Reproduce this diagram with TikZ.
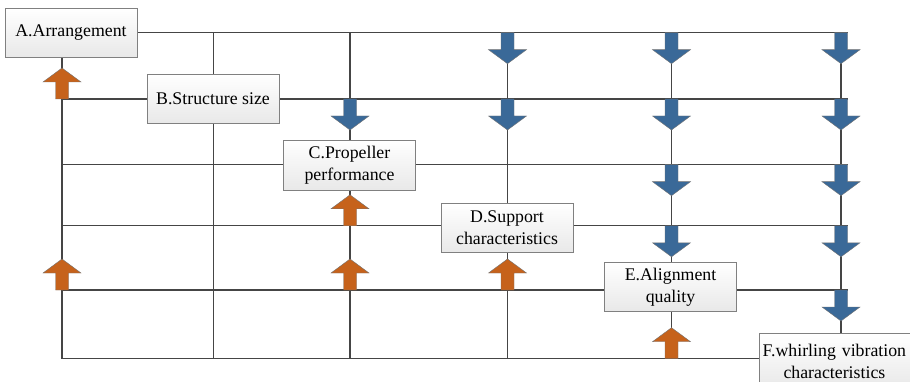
\documentclass[tikz,border=0pt]{standalone}
\usepackage{fontspec}
\setmainfont{Liberation Serif}
\usetikzlibrary{backgrounds}
\definecolor{linec}{HTML}{454545}
\definecolor{arrblue}{HTML}{3A6998}
\definecolor{arrorange}{HTML}{C6621B}
\definecolor{boxborder}{HTML}{808080}
\begin{document}
\begin{tikzpicture}[x=1pt,y=-1pt,
  box/.style={draw=boxborder,line width=0.8pt,top color=white,bottom color=black!9,
    minimum width=132pt,minimum height=49pt,inner sep=1pt,align=center,
    font=\fontsize{17.8}{22}\selectfont},
  gridline/.style={draw=linec,line width=1.3pt},
  downarr/.pic={\filldraw[fill=arrblue,draw=black!55,line width=0.4pt]
    (-6.5,0) -- (6.5,0) -- (6.5,17) -- (19,17) -- (0,31) -- (-19,17) -- (-6.5,17) -- cycle;},
  uparr/.pic={\filldraw[fill=arrorange,draw=black!55,line width=0.4pt]
    (-6.5,0) -- (6.5,0) -- (6.5,-17) -- (19,-17) -- (0,-31) -- (-19,-17) -- (-6.5,-17) -- cycle;}]
\useasboundingbox (0,0) rectangle (910,382);
\clip (0,0) rectangle (910,382);
% boxes
\node[box] (A) at (71,32.7) {A.Arrangement};
\node[box] (B) at (213,99) {B.Structure size};
\node[box,minimum height=50.5pt] (C) at (349.5,165.3) {C.Propeller\\performance};
\node[box] (D) at (507,228) {D.Support\\characteristics};
\node[box] (E) at (670.5,287.2) {E.Alignment\\quality};
\node[box,anchor=north west,align=left,text width=172pt,minimum height=55pt] (F) at (759,333.3)
  {\makebox[148pt]{F.whirling vibration}\\\makebox[148pt]{characteristics}};
% grid coordinates
\coordinate (L1) at (62,99);    \coordinate (R1) at (848,99);
\coordinate (L2) at (62,164.7); \coordinate (R2) at (848,164.7);
\coordinate (L3) at (62,225.8); \coordinate (R3) at (848,225.8);
\coordinate (L4) at (62,290);   \coordinate (R4) at (848,290);
\coordinate (L5) at (62,358.7);
\coordinate (R0) at (848,32.7);
\coordinate (T0) at (62,57.2);
\coordinate (T1) at (213.5,32.7); \coordinate (B1) at (213.5,358.7);
\coordinate (T2) at (350,32.7);   \coordinate (B2) at (350,358.7);
\coordinate (T3) at (507.5,32.7); \coordinate (B3) at (507.5,358.7);
\coordinate (T4) at (671.5,32.7); \coordinate (B4) at (671.5,358.7);
\coordinate (T5) at (841,32.7);
\begin{scope}[on background layer]
  \draw[gridline] (A.east) -- (R0);
  \draw[gridline] (L1) -- (R1);
  \draw[gridline] (L2) -- (R2);
  \draw[gridline] (L3) -- (R3);
  \draw[gridline] (L4) -- (R4);
  \draw[gridline] (T0) -- (L5) -- (L5 -| F.west);
  \draw[gridline] (T1) -- (B1);
  \draw[gridline] (T2) -- (B2);
  \draw[gridline] (T3) -- (B3);
  \draw[gridline] (T4) -- (B4);
  \draw[gridline] (T5) -- (T5 |- F.north);
  % blue arrows
  \foreach \p in {(507.5,32.7),(507.5,99),(350,99),
                  (671.5,32.7),(671.5,99),(671.5,164.7),(671.5,225.8),
                  (841,32.7),(841,99),(841,164.7),(841,225.8),(841,290)}
    \pic at \p {downarr};
  % orange arrows
  \foreach \p in {(62,99),(62,290),(350,225.8),(350,290),(507.5,290),(671.5,358.7)}
    \pic at \p {uparr};
\end{scope}
\end{tikzpicture}
\end{document}
